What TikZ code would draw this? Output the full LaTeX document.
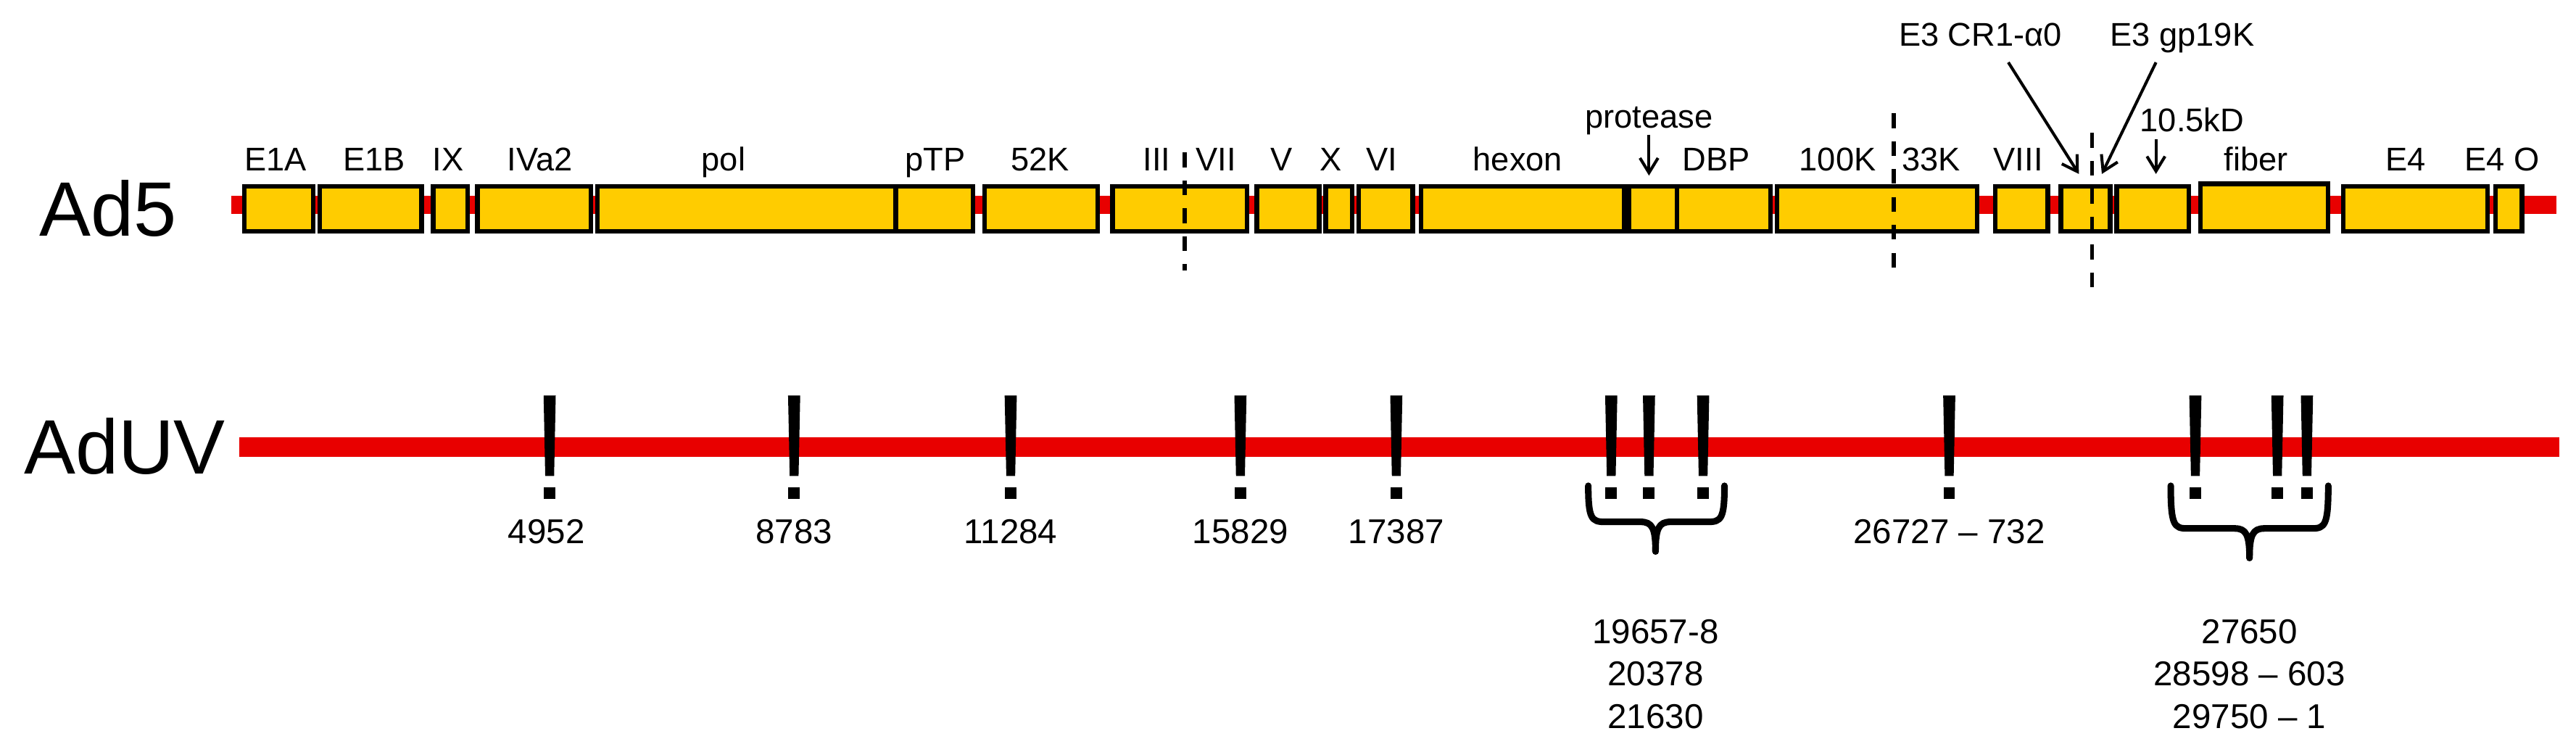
\documentclass[tikz,border=0pt]{standalone}
\usepackage{fontspec}
\setmainfont{Liberation Sans}
\usetikzlibrary{arrows.meta}
\definecolor{gy}{HTML}{FFCC00}
\definecolor{gr}{HTML}{E80000}
\begin{document}
\begin{tikzpicture}[x=1pt,y=-1pt,
  gene/.style={draw=black,fill=gy,line width=2.8pt},
  lbl/.style={anchor=base,font=\fontsize{20}{22}\selectfont,inner sep=0pt},
  num/.style={anchor=base,font=\fontsize{21}{23}\selectfont,inner sep=0pt},
  big/.style={font=\fontsize{47}{50}\selectfont,inner sep=0pt},
  dsh/.style={line width=2.6pt,dash pattern=on 9pt off 8pt},
  arr/.style={line width=1.8pt,-{Straight Barb[length=9pt,width=11pt,line width=1.8pt]}},
  brc/.style={line width=4pt,line cap=round,line join=round}]
\useasboundingbox (0,0) rectangle (1570,458);
\node[big] (ad5) at (66,127) {Ad5};
\node[big] (aduv) at (76,272) {AdUV};
\coordinate (t0) at (141,125); \coordinate (t1) at (1558,125);
\draw[gr,line width=11pt] (t0) -- (t1);
\foreach \a/\b in {149/191,195/257,264/285,291/360,364/546,546/593,600/669,678/760,766/804,808/824,828/861,866/990,993/1022,1022/1079,1083/1205,1216/1248,1256/1286,1290/1334,1428/1516,1521/1537}
  \draw[gene] (\a,113.5) rectangle (\b,141);
\draw[gene] (1341,112) rectangle (1419,141);
\foreach \x/\t in {168/E1A,228/E1B,273/IX,329/IVa2,441/pol,570/pTP,634/52K,705/III,741/VII,781/V,811/X,842/VI,925/hexon,1046/DBP,1120/100K,1177/33K,1230/VIII,1375/fiber,1466/E4,1525/E4 O}
  \node[lbl] (l\x) at (\x,104) {\t};
\node[lbl] (prot) at (1005,78) {protease};
\node[lbl] (kd) at (1336,80) {10.5kD};
\node[lbl] (cr) at (1207,28) {E3 CR1-α0};
\node[lbl] (gp) at (1330,28) {E3 gp19K};
\coordinate (pa) at (1005,107); \coordinate (ka) at (1314,106);
\coordinate (ca) at (1267,106); \coordinate (ga) at (1281,106);
\draw[arr] (1005,82) -- (pa);
\draw[arr] (1314,85) -- (ka);
\draw[arr] (1224,38) -- (ca);
\draw[arr] (1314,38) -- (ga);
\draw[dsh] (722,93) -- (722,165);
\draw[dsh] (1154,69) -- (1154,165);
\draw[dsh] (1275,81) -- (1275,177);
\coordinate (u0) at (146,272.5); \coordinate (u1) at (1560,272.5);
\draw[gr,line width=12pt] (u0) -- (u1);
\foreach \x in {335,484,616,756,851,982,1005,1038,1188,1338,1388,1406}{
  \fill (\x-3.7,241) -- (\x+3.7,241) -- (\x+2.7,290) -- (\x-2.7,290) -- cycle;
  \fill (\x-3.5,297) rectangle (\x+3.5,304);
}
\draw[brc] (968,296) .. controls (968,316) and (970,318) .. (978,318) -- (1000,318) .. controls (1007,318) and (1009,322) .. (1009,336);
\draw[brc] (1051,296) .. controls (1051,316) and (1049,318) .. (1041,318) -- (1018,318) .. controls (1011,318) and (1009,322) .. (1009,336);
\draw[brc] (1323,296) .. controls (1323,320) and (1325,322) .. (1333,322) -- (1362,322) .. controls (1369,322) and (1371,326) .. (1371,340);
\draw[brc] (1419,296) .. controls (1419,320) and (1417,322) .. (1409,322) -- (1380,322) .. controls (1373,322) and (1371,326) .. (1371,340);
\foreach \x/\t in {333/4952,484/8783,616/11284,756/15829,851/17387,1188/26727 – 732}
  \node[num] (n\x) at (\x,331) {\t};
\node[num] (a1) at (1009,392) {19657-8};
\node[num] (a2) at (1009,418) {20378};
\node[num] (a3) at (1009,444) {21630};
\node[num] (b1) at (1371,392) {27650};
\node[num] (b2) at (1371,418) {28598 – 603};
\node[num] (b3) at (1371,444) {29750 – 1};
\end{tikzpicture}
\end{document}
